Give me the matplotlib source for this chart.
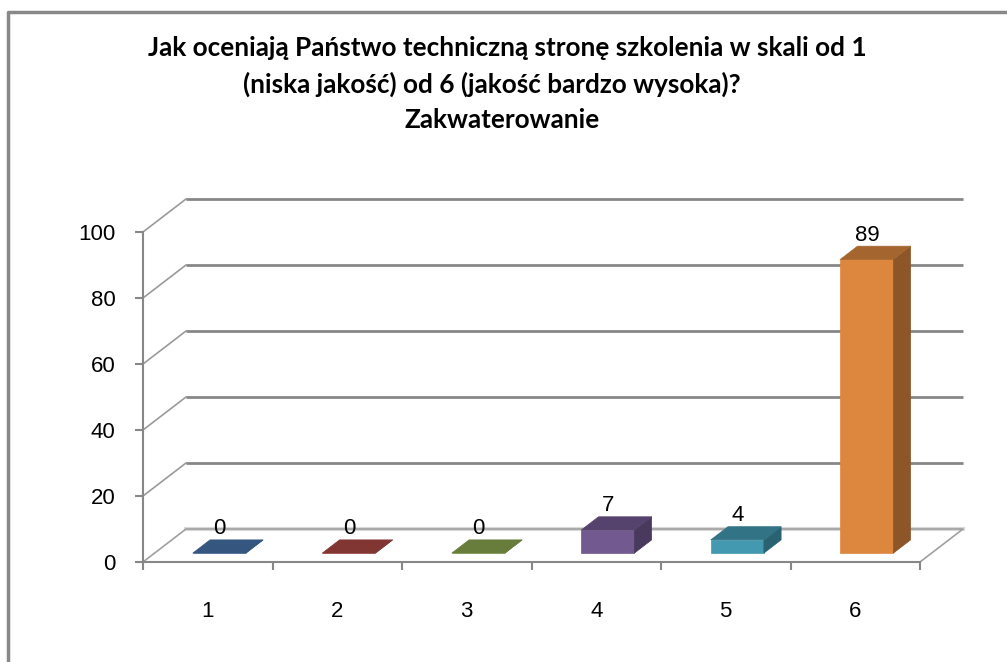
import numpy as np
import matplotlib.pyplot as plt
from matplotlib.patches import Polygon
from matplotlib.lines import Line2D
from matplotlib.colors import to_rgb

title_lines = ["Jak oceniają Państwo techniczną stronę szkolenia w skali od 1",
               "(niska jakość) od 6 (jakość bardzo wysoka)?",
               "Zakwaterowanie"]
title_x = [507, 492, 502]   # line centres in pixels (line 2 sits a bit left)
categories = ["1", "2", "3", "4", "5", "6"]
values = [0, 0, 0, 7, 4, 89]
colors = ["#4F81BD", "#C0504D", "#9BBB59", "#8064A2", "#4BACC6", "#F79646"]
yticks = [0, 20, 40, 60, 80, 100]

# oblique "3d" depth: back wall offset in (category units, value units)
DX, DY = 0.332, 10.0
BAR_D0, BAR_D1 = 0.27, 0.67   # bar front/back as fraction of depth
BAR_W = 0.41
GRID = "#878787"


def shade(c, f):
    r, g, b = to_rgb(c)
    return (r * f, g * f, b * f)


fig = plt.figure(figsize=(10.07, 6.62), dpi=100)
ax = fig.add_axes([143 / 1007, 100 / 662, 777 / 1007, 330 / 662])
ax.set_xlim(0.5, 6.5)
ax.set_ylim(0, 100)
ax.patch.set_visible(False)
for s in ["top", "right"]:
    ax.spines[s].set_visible(False)
for s in ["left", "bottom"]:
    ax.spines[s].set_color(GRID)
    ax.spines[s].set_linewidth(1.5)

num_font = "Liberation Sans"
ax.set_yticks(yticks)
ax.set_yticklabels([str(t) for t in yticks], fontsize=16, family=num_font)
ax.tick_params(axis="y", length=5.8, width=1.5, color=GRID, pad=14)
ax.set_xticks(np.arange(len(categories) + 1) + 0.5)
ax.set_xticklabels([])
ax.set_xticks(np.arange(1, len(categories) + 1), minor=True)
ax.set_xticklabels(categories, minor=True, fontsize=16, family=num_font)
ax.tick_params(axis="x", which="major", length=5.5, width=1.5, color=GRID)
ax.tick_params(axis="x", which="minor", length=0, pad=28)

# walls: gridlines running back along the side wall and across the back wall
for y in yticks[1:]:
    ax.plot([0.5, 0.5 + DX], [y, y + DY], color="#9a9a9a", lw=1.2, clip_on=False)
    ax.plot([0.5 + DX, 6.5 + DX], [y + DY, y + DY], color=GRID, lw=2, clip_on=False,
            solid_capstyle="butt")
# floor
ax.plot([0.5 + DX, 6.5 + DX], [DY, DY], color="#d9d9d9", lw=3, clip_on=False)
ax.plot([0.5, 0.5 + DX, 6.5 + DX, 6.5], [0, DY, DY, 0], color="#a0a0a0", lw=1.2,
        clip_on=False)

ddx = (BAR_D1 - BAR_D0) * DX
ddy = (BAR_D1 - BAR_D0) * DY
for i, (v, c) in enumerate(zip(values, colors)):
    x0 = i + 1 - BAR_W / 2 + BAR_D0 * DX
    x1 = x0 + BAR_W
    y0 = BAR_D0 * DY
    y1 = y0 + v
    front = [(x0, y0), (x1, y0), (x1, y1), (x0, y1)]
    side = [(x1, y0), (x1 + ddx, y0 + ddy), (x1 + ddx, y1 + ddy), (x1, y1)]
    top = [(x0, y1), (x1, y1), (x1 + ddx, y1 + ddy), (x0 + ddx, y1 + ddy)]
    for poly, f in [(front, 0.89), (side, 0.57), (top, 0.67)]:
        ax.add_patch(Polygon(poly, closed=True, facecolor=shade(c, f),
                             edgecolor=shade(c, f), lw=0.5, clip_on=False,
                             zorder=4))
    ax.annotate(str(v), (x0 + BAR_W / 2, y1 + ddy), xytext=(0, 4),
                textcoords="offset points", ha="center", va="baseline",
                fontsize=16, family=num_font, zorder=5)

# chart area frame (only top and left edges are in view)
fig.add_artist(Line2D([8 / 1007, 8 / 1007, 1], [0, 1 - 12 / 662, 1 - 12 / 662],
                      transform=fig.transFigure, color="#888888", lw=2.5))

for k, line in enumerate(title_lines):
    fig.text(title_x[k] / 1007, 1 - (48 + 36 * k) / 662, line, ha="center",
             va="center", fontsize=18.8, fontweight="bold", family="Lato")

fig.savefig("out.png", dpi=100)
